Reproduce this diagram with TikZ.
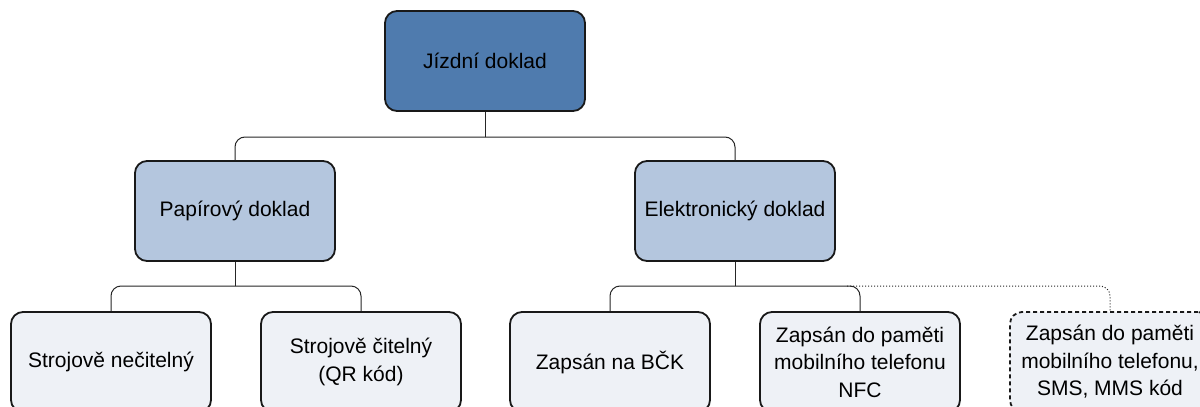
\documentclass[tikz,border=0pt]{standalone}
\usepackage{fontspec}
\setmainfont{Liberation Sans}
\begin{document}
\begin{tikzpicture}[x=1pt,y=-1pt,
  box/.style={draw=black!90,line width=1.8pt,rounded corners=12pt,minimum width=200pt,minimum height=100pt,align=center,inner sep=2pt,font=\fontsize{21}{27.5}\selectfont},
  lvla/.style={box,fill=rootc},
  lvlb/.style={box,fill=midc},
  lvlc/.style={box,fill=leafc},
  conn/.style={draw=black!85,line width=1pt,rounded corners=10pt}]
\definecolor{rootc}{RGB}{79,123,174}
\definecolor{midc}{RGB}{180,198,222}
\definecolor{leafc}{RGB}{238,241,246}
\useasboundingbox (0,0) rectangle (1200,407);
\clip (0,0) rectangle (1200,407);
\fill[white] (0,0) rectangle (1200,407);
\node[lvla] (root) at (485,61) {Jízdní doklad};
\node[lvlb] (pap) at (235,211) {Papírový doklad};
\node[lvlb] (ele) at (735,211) {Elektronický doklad};
\node[lvlc] (s1) at (111,362) {Strojově nečitelný};
\node[lvlc] (s2) at (361,362) {Strojově čitelný\\(QR kód)};
\node[lvlc] (e1) at (610,362) {Zapsán na BČK};
\node[lvlc] (e2) at (860,362) {Zapsán do paměti\\mobilního telefonu\\NFC};
\node[lvlc,dash pattern=on 4pt off 3pt] (e3) at (1110,362) {Zapsán do paměti\\mobilního telefonu,\\SMS, MMS kód};
\coordinate (b0) at (485,137);
\coordinate (b1) at (235,286);
\coordinate (b2) at (735,286);
\coordinate (d0) at (847,286);
\draw[conn] (root.south) -- (b0);
\draw[conn] (b0) -| (pap.north);
\draw[conn] (b0) -| (ele.north);
\draw[conn] (pap.south) -- (b1);
\draw[conn] (b1) -| (s1.north);
\draw[conn] (b1) -| (s2.north);
\draw[conn] (ele.south) -- (b2);
\draw[conn] (b2) -| (e1.north);
\draw[conn] (b2) -| (e2.north);
\draw[conn,dotted] (d0) -| (e3.north);
\end{tikzpicture}
\end{document}
